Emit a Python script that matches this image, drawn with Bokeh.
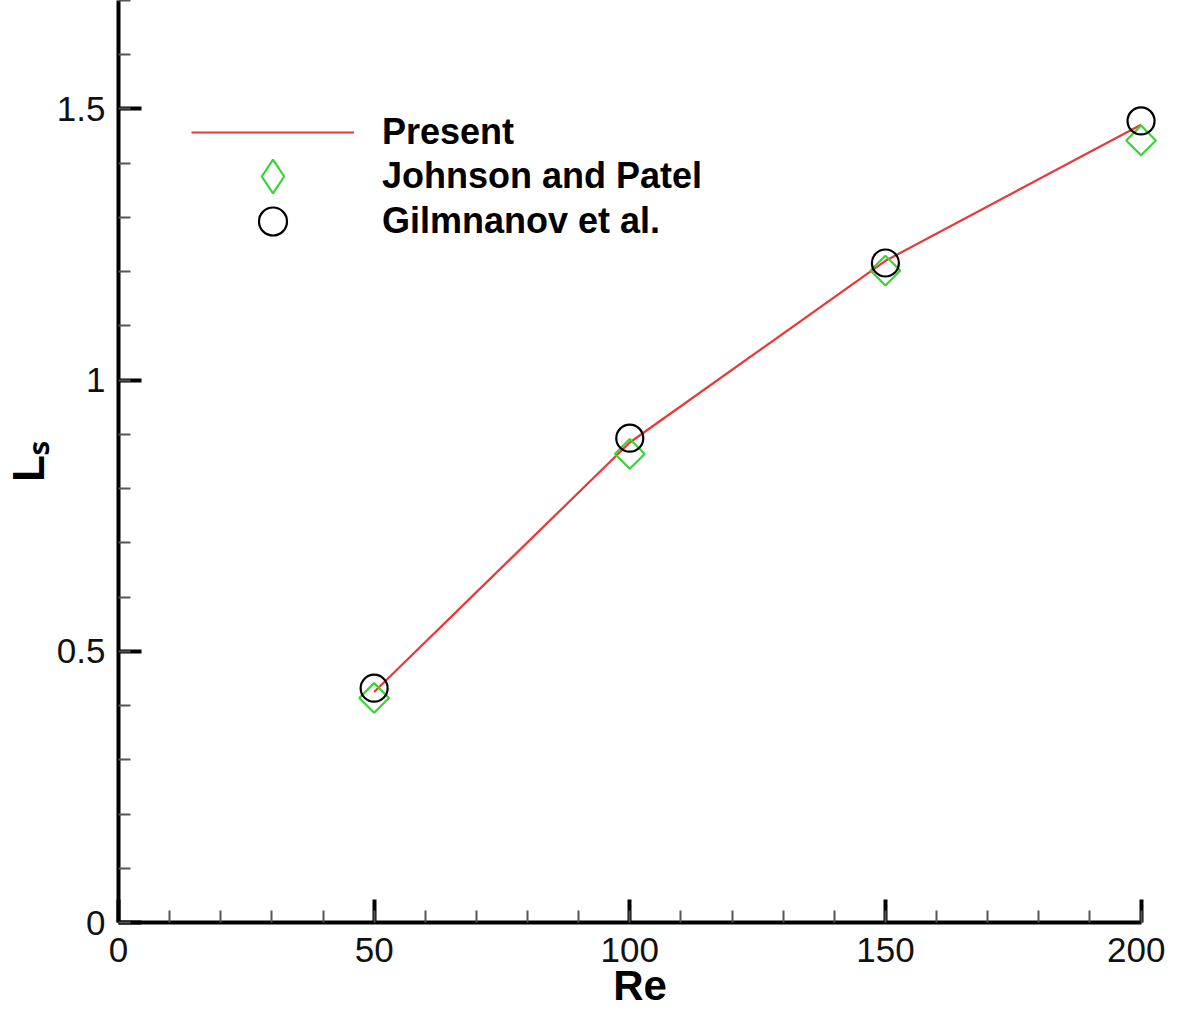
from bokeh.plotting import figure
from bokeh.models import (Range1d, SingleIntervalTicker, CustomJSTickFormatter,
                          Legend, LegendItem)
from bokeh.embed import file_html
from bokeh.resources import INLINE
import numpy as np

# ---- data ----
re_vals = [50, 100, 150, 200]
present = [0.425, 0.885, 1.22, 1.471]
johnson_patel = [0.414, 0.864, 1.202, 1.442]
gilmnanov = [0.432, 0.893, 1.216, 1.478]

x_label = "Re"
y_label = "Lₛ"
series_names = ["Present", "Johnson and Patel", "Gilmnanov et al."]

FONT = "Liberation Sans"
GREEN = "#33d633"
H = 1011

p = figure(width=1165, height=H, output_backend="svg",
           toolbar_location=None, x_range=Range1d(0, 204), y_range=Range1d(0, 1.7),
           min_border_left=118, min_border_right=4, min_border_top=0,
           min_border_bottom=77)
p.outline_line_color = None
p.xgrid.visible = False
p.ygrid.visible = False
p.background_fill_color = "white"
p.border_fill_color = "white"

r_line = p.line(re_vals, present, line_color="#e8383a", line_width=2.2)
r_jp = p.scatter(re_vals, johnson_patel, marker="square", size=21, angle=np.pi / 4,
                 fill_color=None, line_color=GREEN, line_width=2.2)
r_gil = p.scatter(re_vals, gilmnanov, marker="circle", size=27,
                  fill_color=None, line_color="black", line_width=2.2)
# legend-only key (not drawn in the plot: NaN position)
r_jp_key = p.scatter([np.nan], [np.nan], marker="diamond", fill_color=None,
                     line_color=GREEN, line_width=2.2)

for ax, interval in ((p.xaxis[0], 50), (p.yaxis[0], 0.5)):
    ax.ticker = SingleIntervalTicker(interval=interval, num_minor_ticks=5)
    ax.axis_line_width = 4
    ax.axis_line_color = "black"
    ax.major_tick_in = 23
    ax.major_tick_out = 0
    ax.major_tick_line_width = 4
    ax.minor_tick_in = 12
    ax.minor_tick_out = 0
    ax.minor_tick_line_width = 2
    ax.minor_tick_line_color = "#555555"
    ax.major_label_text_font = FONT
    ax.major_label_text_font_size = "35px"
    ax.major_label_text_color = "#111111"
    ax.axis_label_text_font = FONT
    ax.axis_label_text_font_style = "bold"
    ax.axis_label_text_color = "black"
    ax.formatter = CustomJSTickFormatter(code="return String(Math.round(tick*10)/10);")

p.xaxis.bounds = (0, 200)

p.xaxis.axis_label = x_label
p.xaxis.axis_label_text_font_size = "42px"
p.xaxis.major_label_standoff = 15
p.xaxis.axis_label_standoff = -3

p.yaxis.axis_label = y_label
p.yaxis.axis_label_text_font_size = "44px"
p.yaxis.major_label_standoff = 13
p.yaxis.axis_label_standoff = 1

FB = 922  # expected frame bottom (canvas px)


def make_legend(label, renderer, gh, loc):
    return Legend(items=[LegendItem(label=label, renderers=[renderer])],
                  location=loc, glyph_width=163, glyph_height=gh,
                  label_height=gh, spacing=0, padding=0, margin=0,
                  label_standoff=28, border_line_color=None,
                  background_fill_alpha=0,
                  label_text_font=FONT, label_text_font_style="bold",
                  label_text_font_size="36px", label_text_color="black")


p.add_layout(make_legend(series_names[0], r_line, 44, (73, FB - 154)), "center")
p.add_layout(make_legend(series_names[1], r_jp_key, 84, (73, FB - 176 - 42)), "center")
p.add_layout(make_legend(series_names[2], r_gil, 70, (73, FB - 256)), "center")

open("out.html", "w").write(file_html(p, INLINE))
